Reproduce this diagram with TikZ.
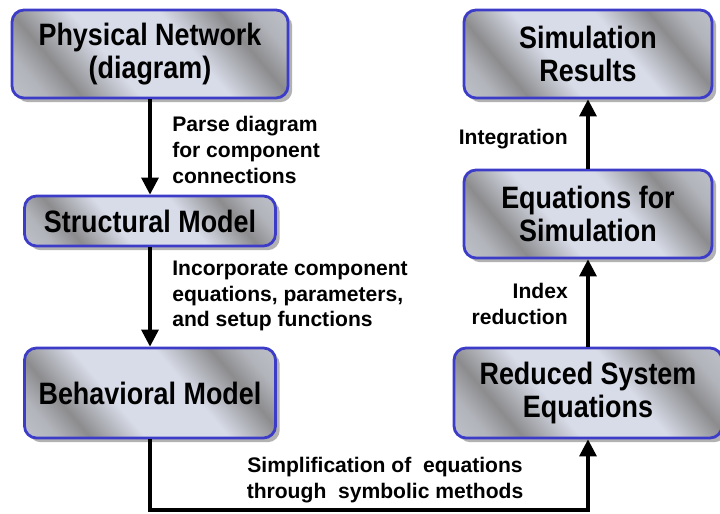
\documentclass[tikz,border=0pt]{standalone}
\usepackage{fontspec}
\setmainfont{Liberation Sans}
\newfontfamily\boxfont{Liberation Sans}[FakeStretch=0.87]
\usetikzlibrary{arrows.meta,shadows}
\definecolor{boxblue}{RGB}{60,60,200}
\definecolor{metallight}{RGB}{216,220,232}
\definecolor{metaldark}{RGB}{140,140,142}
\pgfdeclarehorizontalshading{metal}{100bp}{color(0bp)=(metallight); color(22bp)=(metallight!50!metaldark); color(29bp)=(metaldark); color(41bp)=(metallight); color(59bp)=(metallight); color(71bp)=(metaldark); color(78bp)=(metallight!50!metaldark); color(100bp)=(metallight)}
\tikzset{
  box/.style={draw=boxblue, line width=2pt, rounded corners=0.3cm, shade, shading=metal, shading angle=40,
    drop shadow={shadow xshift=3pt, shadow yshift=-3pt, opacity=0.3, fill=black},
    align=center, font=\boxfont\bfseries\fontsize{22}{23.4}\selectfont},
  arr/.style={line width=2.3pt, -{Triangle[width=12pt,length=12pt]}},
  lbl/.style={inner sep=0pt, font=\bfseries\fontsize{15}{18.4}\selectfont}
}
\begin{document}
\begin{tikzpicture}
        \useasboundingbox (0,0) rectangle (18,12.85);
        % 左の列
        \node[box, minimum width=6.9cm, minimum height=2.2cm] (pn) at (3.75,11.5) {Physical Network\\(diagram)};
        \node[box, minimum width=6.275cm, minimum height=1.25cm] (sm) at (3.75,7.325) {Structural Model};
        \node[box, minimum width=6.275cm, minimum height=2.25cm] (bm) at (3.75,3.025) {Behavioral Model};
        % 右の列
        \node[box, minimum width=6.2cm, minimum height=2.2cm] (sr) at (14.7,11.5) {Simulation\\Results};
        \node[box, minimum width=6.2cm, minimum height=2.2cm] (es) at (14.7,7.5) {Equations for\\Simulation};
        \node[box, minimum width=6.7cm, minimum height=2.25cm] (rse) at (14.7,3.025) {Reduced System\\Equations};
        % 矢印
        \draw[arr] (pn) -- (sm);
        \draw[arr] (sm) -- (bm);
        \coordinate (low) at (3.75,0.1);
        \draw[arr] (bm) -- (low) -| (rse);
        \draw[arr] (rse) -- (es);
        \draw[arr] (es) -- (sr);
        % ラベル
        \node[lbl, anchor=west, align=left] (parse) at (4.3,9.1) {Parse diagram\\for component\\connections};
        \node[lbl, anchor=west, align=left] (incorp) at (4.3,5.45) {Incorporate component\\equations, parameters,\\and setup functions};
        \node[lbl, align=center] (simp) at (9.625,0.85) {Simplification of~ equations\\through~ symbolic methods};
        \node[lbl, anchor=east, align=right] (index) at (14.2,5.25) {Index\\reduction};
        \node[lbl, anchor=east] (integ) at (14.2,9.375) {Integration};
      \end{tikzpicture}
\end{document}
